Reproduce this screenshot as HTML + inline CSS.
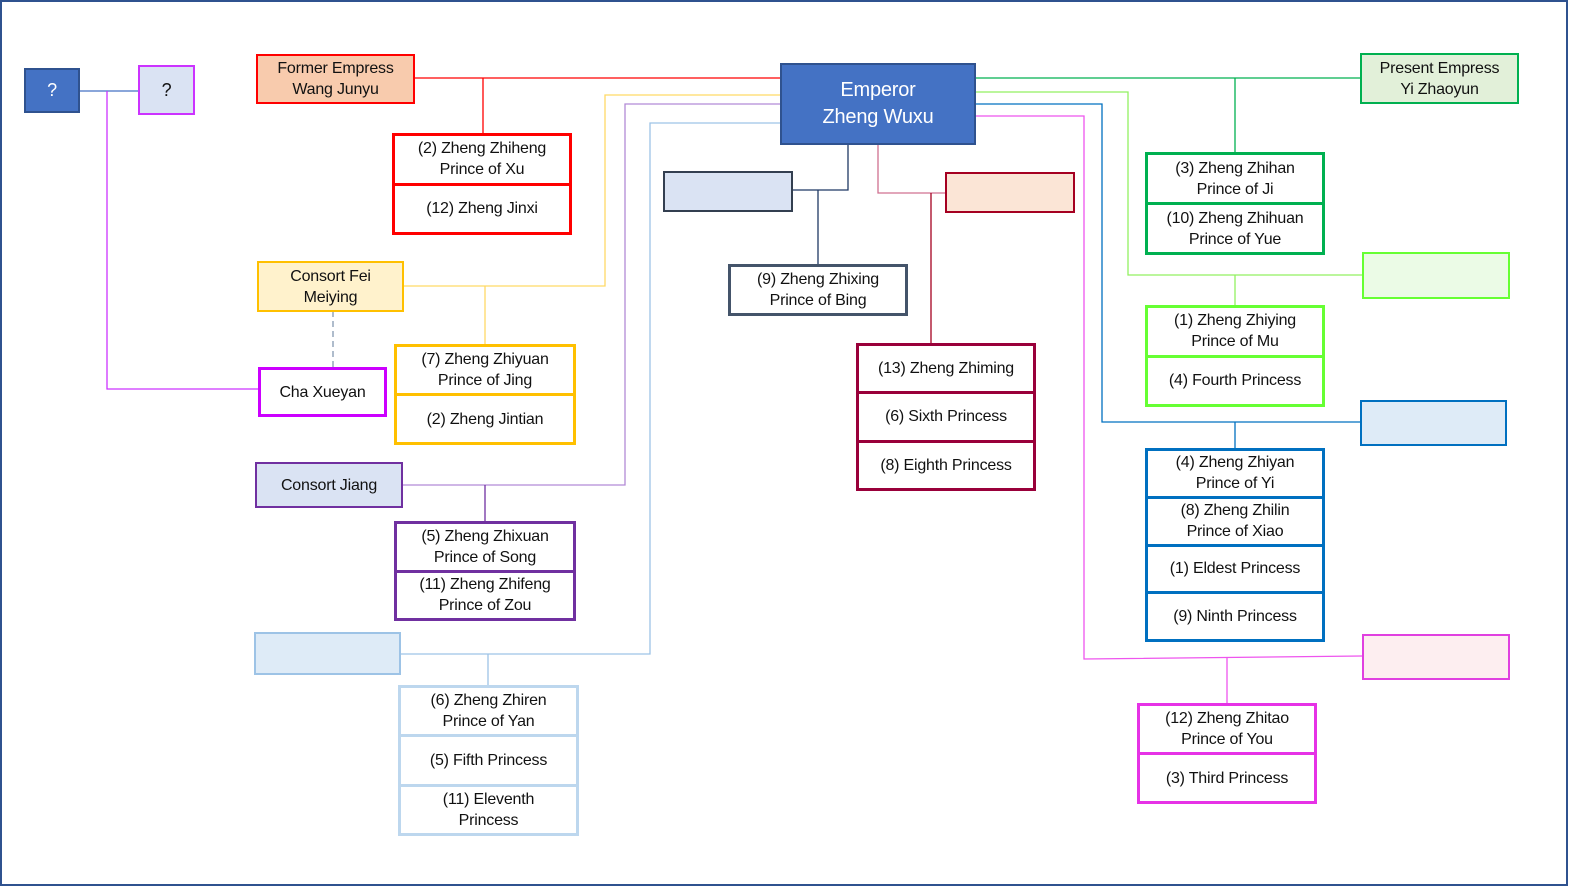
<!DOCTYPE html>
<html><head><meta charset="utf-8"><style>
html,body{margin:0;padding:0;background:#fff}
#c{position:relative;width:1579px;height:892px;overflow:hidden;font-family:"Liberation Sans",sans-serif;font-size:16px;color:#111}
.b{position:absolute;box-sizing:border-box;display:flex;flex-direction:column}
.b>div{flex:1;display:flex;align-items:center;justify-content:center;text-align:center;line-height:21px;letter-spacing:-0.2px}
svg{position:absolute;left:0;top:0}
</style></head><body><div id="c">
<svg width="1579" height="892" fill="none" stroke-width="1.3">
<rect x="1" y="1" width="1566" height="884" stroke="#2f528f" stroke-width="2"/>
<path d="M80 91H138" stroke="#4472c4"/>
<path d="M107 91V389H258" stroke="#cc33ff"/>
<path d="M414 78H780M483 78V133" stroke="#ff0000"/>
<path d="M780 95H605V286H403M485 286V344" stroke="#ffd966"/>
<path d="M333 311V367" stroke="#8497b0" stroke-dasharray="6,4"/>
<path d="M780 104H625V485H402" stroke="#b28ad6"/>
<path d="M485 485V521" stroke="#7030a0"/>
<path d="M780 123H650V654H400M488 654V685" stroke="#9dc3e6"/>
<path d="M848 144V190H793M818 190V264" stroke="#1f3864"/>
<path d="M878 144V193H945" stroke="#d07090"/>
<path d="M931 193V343" stroke="#a50021"/>
<path d="M975 78H1360M1235 78V152" stroke="#00b050"/>
<path d="M975 92H1128V275H1362M1235 275V305" stroke="#92f060"/>
<path d="M975 104H1102V422H1360M1235 422V448" stroke="#0070c0"/>
<path d="M975 116H1084V659L1362 656M1227 658V703" stroke="#ee55ee"/>
</svg>

<div class="b" style="left:24px;top:68px;width:56px;height:45px;background:#4472c4;border:2px solid #2f528f;color:#fff;font-size:18px"><div>?</div></div>
<div class="b" style="left:138px;top:65px;width:57px;height:50px;background:#dae3f3;border:2px solid #cc33ff;font-size:18px"><div>?</div></div>

<div class="b" style="left:256px;top:54px;width:159px;height:50px;background:#f8cbad;border:2px solid #ff0000"><div>Former Empress<br>Wang Junyu</div></div>
<div class="b" style="left:392px;top:133px;width:180px;height:102px;border:3px solid #ff0000"><div style="border-bottom:3px solid #ff0000">(2) Zheng Zhiheng<br>Prince of Xu</div><div>(12) Zheng Jinxi</div></div>

<div class="b" style="left:257px;top:261px;width:147px;height:51px;background:#fff2cc;border:2px solid #ffc000"><div>Consort Fei<br>Meiying</div></div>
<div class="b" style="left:258px;top:367px;width:129px;height:50px;border:3px solid #cc00ff"><div>Cha Xueyan</div></div>
<div class="b" style="left:394px;top:344px;width:182px;height:101px;border:3px solid #ffc000"><div style="border-bottom:3px solid #ffc000">(7) Zheng Zhiyuan<br>Prince of Jing</div><div>(2) Zheng Jintian</div></div>

<div class="b" style="left:255px;top:462px;width:148px;height:46px;background:#dae3f3;border:2px solid #7030a0"><div>Consort Jiang</div></div>
<div class="b" style="left:394px;top:521px;width:182px;height:100px;border:3px solid #7030a0"><div style="border-bottom:3px solid #7030a0">(5) Zheng Zhixuan<br>Prince of Song</div><div>(11) Zheng Zhifeng<br>Prince of Zou</div></div>

<div class="b" style="left:254px;top:632px;width:147px;height:43px;background:#deebf7;border:2px solid #9dc3e6"><div></div></div>
<div class="b" style="left:398px;top:685px;width:181px;height:151px;border:3px solid #bdd7ee"><div style="border-bottom:3px solid #bdd7ee">(6) Zheng Zhiren<br>Prince of Yan</div><div style="border-bottom:3px solid #bdd7ee">(5) Fifth Princess</div><div>(11) Eleventh<br>Princess</div></div>

<div class="b" style="left:780px;top:63px;width:196px;height:82px;background:#4472c4;border:2px solid #2f528f;color:#fff;font-size:20px"><div style="line-height:27px">Emperor<br>Zheng Wuxu</div></div>

<div class="b" style="left:663px;top:171px;width:130px;height:41px;background:#dae3f3;border:2px solid #333f50"><div></div></div>
<div class="b" style="left:728px;top:264px;width:180px;height:52px;border:3px solid #44546a"><div>(9) Zheng Zhixing<br>Prince of Bing</div></div>

<div class="b" style="left:945px;top:172px;width:130px;height:41px;background:#fbe5d6;border:2px solid #a50021"><div></div></div>
<div class="b" style="left:856px;top:343px;width:180px;height:148px;border:3px solid #99003a"><div style="border-bottom:3px solid #99003a">(13) Zheng Zhiming</div><div style="border-bottom:3px solid #99003a">(6) Sixth Princess</div><div>(8) Eighth Princess</div></div>

<div class="b" style="left:1360px;top:53px;width:159px;height:51px;background:#e2f0d9;border:2px solid #00b050"><div>Present Empress<br>Yi Zhaoyun</div></div>
<div class="b" style="left:1145px;top:152px;width:180px;height:103px;border:3px solid #00b050"><div style="border-bottom:3px solid #00b050">(3) Zheng Zhihan<br>Prince of Ji</div><div>(10) Zheng Zhihuan<br>Prince of Yue</div></div>

<div class="b" style="left:1362px;top:252px;width:148px;height:47px;background:#ebfbe6;border:2px solid #66ff33"><div></div></div>
<div class="b" style="left:1145px;top:305px;width:180px;height:102px;border:3px solid #66ff33"><div style="border-bottom:3px solid #66ff33">(1) Zheng Zhiying<br>Prince of Mu</div><div>(4) Fourth Princess</div></div>

<div class="b" style="left:1360px;top:400px;width:147px;height:46px;background:#deebf7;border:2px solid #0070c0"><div></div></div>
<div class="b" style="left:1145px;top:448px;width:180px;height:194px;border:3px solid #0070c0"><div style="border-bottom:3px solid #0070c0">(4) Zheng Zhiyan<br>Prince of Yi</div><div style="border-bottom:3px solid #0070c0">(8) Zheng Zhilin<br>Prince of Xiao</div><div style="border-bottom:3px solid #0070c0">(1) Eldest Princess</div><div>(9) Ninth Princess</div></div>

<div class="b" style="left:1362px;top:634px;width:148px;height:46px;background:#fdeef0;border:2px solid #e040e0"><div></div></div>
<div class="b" style="left:1137px;top:703px;width:180px;height:101px;border:3px solid #e632e6"><div style="border-bottom:3px solid #e632e6">(12) Zheng Zhitao<br>Prince of You</div><div>(3) Third Princess</div></div>
</div></body></html>
